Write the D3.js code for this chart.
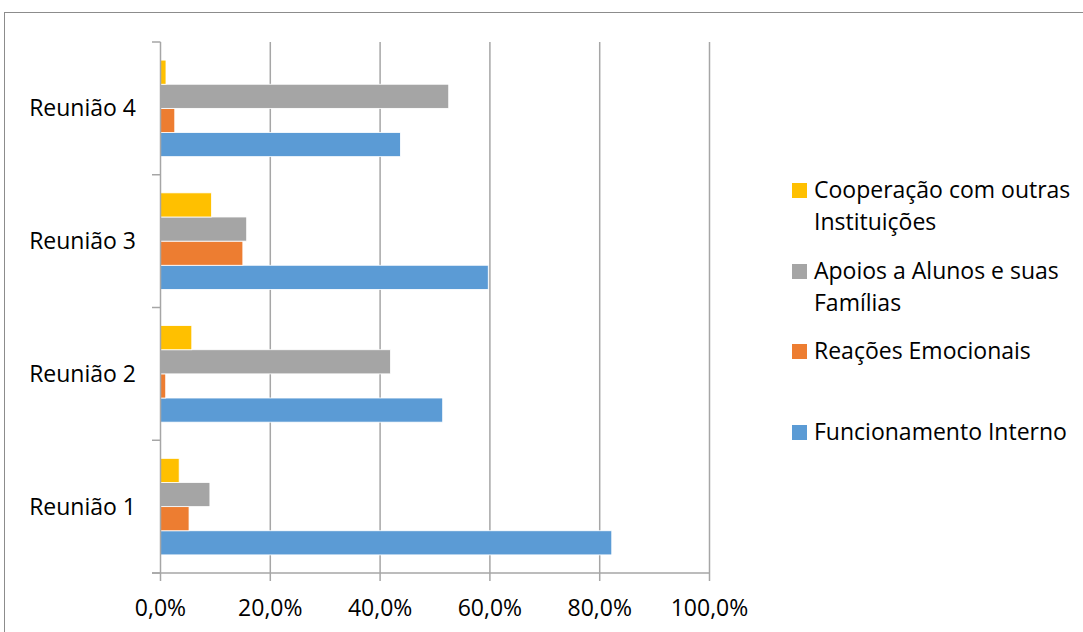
<!DOCTYPE html>
<html><head><meta charset="utf-8">
<script src="https://cdn.jsdelivr.net/npm/d3@7/dist/d3.min.js"></script>
<style>body{margin:0;background:#fff;} text{font-family:"Open Sans",sans-serif;fill:#000;}</style>
</head><body>
<svg id="c" width="1083" height="632"></svg>
<script>
const categories = ["Reunião 1","Reunião 2","Reunião 3","Reunião 4"];
const seriesNames = ["Funcionamento Interno","Reações Emocionais","Apoios a Alunos e suas Famílias","Cooperação com outras Instituições"];
const funcionamento = [82.2, 51.4, 59.7, 43.7];
const reacoes = [5.2, 0.95, 15.0, 2.6];
const apoios = [9.0, 41.9, 15.7, 52.5];
const cooperacao = [3.4, 5.7, 9.3, 1.0];
const colors = ["#5B9BD5","#ED7D31","#A5A5A5","#FFC000"];
const xTicks = [0,20,40,60,80,100];
const seriesValues = [funcionamento, reacoes, apoios, cooperacao];

(function(){
const svg = d3.select("#c");
const pL = 160.5, pR = 709.5, pT = 42, pB = 573;
const FS = "23px";
svg.append("rect").attr("x",4.5).attr("y",12.5).attr("width",1200).attr("height",700)
  .attr("fill","none").attr("stroke","#8c8c8c").attr("stroke-width",1);

const x = d3.scaleLinear().domain([0,100]).range([pL,pR]);
const y = d3.scaleBand().domain(categories.slice().reverse()).range([pT,pB]).paddingInner(0).paddingOuter(0);
const inner = d3.scaleBand().domain([3,2,1,0]).range([0,y.bandwidth()]).paddingInner(0).paddingOuter(0.75);

svg.append("g").selectAll("line").data(xTicks.slice(1)).join("line")
  .attr("x1",d=>x(d)).attr("x2",d=>x(d)).attr("y1",pT).attr("y2",pB)
  .attr("stroke","#a6a6a6").attr("stroke-width",1.5);

categories.forEach((c,ci)=>{
  seriesValues.forEach((vals,si)=>{
    svg.append("rect").attr("x",x(0)).attr("y",y(c)+inner(si))
      .attr("width",x(vals[ci])-x(0)).attr("height",inner.bandwidth())
      .attr("fill",colors[si]).attr("stroke","#fff").attr("stroke-width",0.8);
  });
});

svg.append("line").attr("x1",pL).attr("x2",pL).attr("y1",pT).attr("y2",pB).attr("stroke","#a6a6a6").attr("stroke-width",1.5);
svg.append("line").attr("x1",152).attr("x2",pR).attr("y1",pB).attr("y2",pB).attr("stroke","#a6a6a6").attr("stroke-width",1.5);
const yb = categories.map(c=>y(c)).concat([pB]);
svg.append("g").selectAll("line").data(yb).join("line")
  .attr("x1",152).attr("x2",pL).attr("y1",d=>d).attr("y2",d=>d).attr("stroke","#a6a6a6").attr("stroke-width",1.5);
svg.append("g").selectAll("line").data(xTicks).join("line")
  .attr("x1",d=>x(d)).attr("x2",d=>x(d)).attr("y1",pB).attr("y2",pB+8).attr("stroke","#a6a6a6").attr("stroke-width",1.5);

const fmt = d=>d.toFixed(1).replace(".",",")+"%";
svg.append("g").selectAll("text").data(xTicks).join("text")
  .attr("x",d=>x(d)).attr("y",616).attr("text-anchor","middle").style("font-size",FS).text(fmt);
svg.append("g").selectAll("text").data(categories).join("text")
  .attr("x",136).attr("y",c=>y(c)+y.bandwidth()/2+8).attr("text-anchor","end").style("font-size",FS).text(c=>c);

const legend = [
  {i:3, lines:["Cooperação com outras","Instituições"], y:190},
  {i:2, lines:["Apoios a Alunos e suas","Famílias"], y:271},
  {i:1, lines:["Reações Emocionais"], y:351},
  {i:0, lines:["Funcionamento Interno"], y:432}
];
legend.forEach(l=>{
  svg.append("rect").attr("x",792).attr("y",l.y-7).attr("width",15).attr("height",15).attr("fill",colors[l.i]);
  l.lines.forEach((t,k)=>{
    svg.append("text").attr("x",814).attr("y",l.y+8+k*32).style("font-size",FS).text(t);
  });
});
})();
</script>
</body></html>
